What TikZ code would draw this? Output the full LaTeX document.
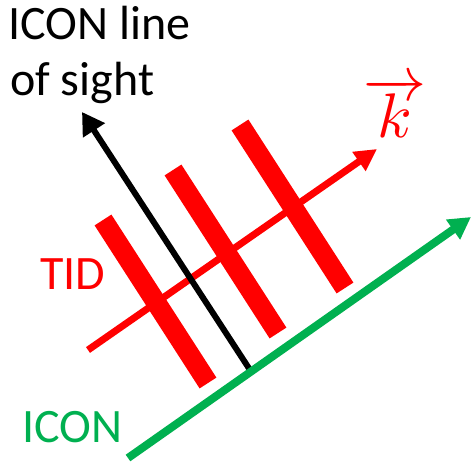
\documentclass[tikz,border=0pt]{standalone}
\usepackage{fontspec}
\setmainfont{Carlito}
\usetikzlibrary{arrows.meta}
\definecolor{tidred}{RGB}{255,0,0}
\definecolor{icongreen}{RGB}{0,176,80}
\begin{document}
\begin{tikzpicture}[x=1pt,y=-1pt,
  lbl/.style={inner sep=0pt,anchor=base west,font=\fontsize{48}{56}\selectfont},
  bar/.style={draw=tidred,line width=20pt,line cap=butt},
  kvec/.style={draw=tidred,line width=7pt,-{Triangle[length=22pt,width=22pt]}},
  los/.style={draw=black,line width=6pt,-{Triangle[length=22pt,width=25pt]}},
  icon/.style={draw=icongreen,line width=8pt,-{Triangle[length=22pt,width=23pt]}}]
\useasboundingbox (0,0) rectangle (471,462);
% coordinates
\coordinate (g1) at (128,458);
\coordinate (g2) at (471,217);
\coordinate (b1) at (252,373);
\coordinate (b2) at (82,112);
\coordinate (k1) at (88,350);
\coordinate (k2) at (377,149);
\coordinate (r1a) at (103,220); \coordinate (r1b) at (208,383);
\coordinate (r2a) at (173,170); \coordinate (r2b) at (278,333);
\coordinate (r3a) at (240,125); \coordinate (r3b) at (345,288);
% TID bars
\draw[bar] (r1a) -- (r1b);
\draw[bar] (r2a) -- (r2b);
\draw[bar] (r3a) -- (r3b);
% wave vector
\draw[kvec] (k1) -- (k2);
% line of sight
\draw[los] (b1) -- (b2);
% ICON track
\draw[icon] (g1) -- (g2);
% labels
\node[lbl] (t1) at (8,40) {ICON line};
\node[lbl] (t2) at (10,96) {of sight};
\node[lbl,text=tidred] (tid) at (40,290) {TID};
\node[lbl,text=icongreen] (ic) at (22,442) {ICON};
\node[inner sep=0pt,anchor=base,text=tidred,scale=6.3] (kl) at (395,138) {$\overrightarrow{k}$};
\end{tikzpicture}
\end{document}
